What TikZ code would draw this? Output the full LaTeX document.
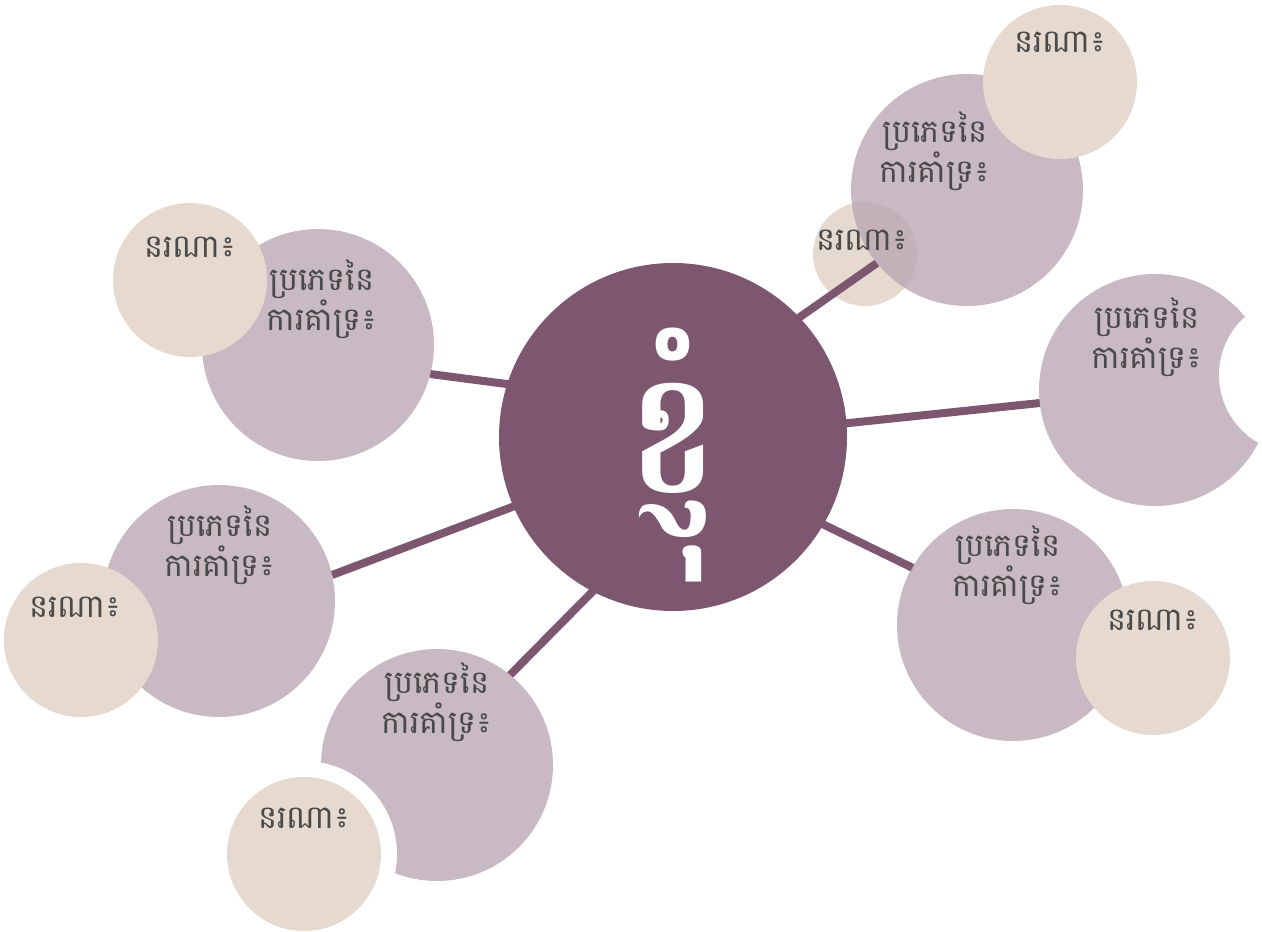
\documentclass[tikz,border=0pt]{standalone}
\usepackage{fontspec}
\newfontfamily\kh[Script=Khmer]{Battambang}
\newfontfamily\khb[Script=Khmer]{Battambang Bold}
\usetikzlibrary{calc}
\definecolor{hub}{HTML}{7D5670}
\definecolor{mauve}{HTML}{BBA7B4}
\definecolor{beige}{HTML}{E6D9CF}
\definecolor{ink}{HTML}{4A4A4A}
\pgfdeclarelayer{under}
\pgfdeclarelayer{lines}
\pgfdeclarelayer{top}
\pgfsetlayers{under,lines,main,top}
\tikzset{
  hubc/.style={circle,fill=hub,inner sep=0pt,minimum size=348pt},
  typec/.style={circle,fill=mauve,fill opacity=0.8,inner sep=0pt,minimum size=232pt},
  whoc/.style={circle,fill=beige,inner sep=0pt,minimum size=154pt},
  whos/.style={circle,fill=beige,inner sep=0pt,minimum size=104pt},
  gap/.style={circle,fill=white,inner sep=0pt},
  conn/.style={line width=8pt,draw=hub},
  ttxt/.style={text=ink,font=\kh\fontsize{32}{30}\selectfont,align=center,inner sep=0pt},
}
\begin{document}
\begin{tikzpicture}[x=1pt,y=-1pt]
\useasboundingbox (0,0) rectangle (1262,932);
% hub
\node[hubc] (c) at (673,437) {};
% type circles
\node[typec] (p1) at (967,190) {};
\node[typec] (p2) at (1155,390) {};
\node[typec] (p3) at (1013,625) {};
\node[typec] (p4) at (437,765) {};
\node[typec] (p5) at (219,601) {};
\node[typec] (p6) at (318,345) {};
% connector ends
\coordinate (h1) at (780,331);  \coordinate (a1) at (877,263);
\coordinate (h2) at (830,425);  \coordinate (a2) at (1040,403);
\coordinate (h3) at (810,518);  \coordinate (a3) at (913,568);
\coordinate (h4) at (602,582);  \coordinate (a4) at (510,675);
\coordinate (h5) at (528,501);  \coordinate (a5) at (332,575);
\coordinate (h6) at (522,386);  \coordinate (a6) at (430,374);
\begin{pgfonlayer}{under}
\node[whos] (w1s) at (865,254) {};
\end{pgfonlayer}
\begin{pgfonlayer}{lines}
\draw[conn] (h1) -- (a1);
\draw[conn] (h2) -- (a2);
\draw[conn] (h3) -- (a3);
\draw[conn] (h4) -- (a4);
\draw[conn] (h5) -- (a5);
\draw[conn] (h6) -- (a6);
\end{pgfonlayer}
\begin{pgfonlayer}{top}
\node[whoc] (w1) at (1060,82) {};
\node[gap,minimum size=156pt] (g2) at (1297,375) {};
\node[whoc] (w3) at (1153,658) {};
\node[gap,minimum size=186pt] (g4) at (304,854) {};
\node[whoc] (w4) at (304,854) {};
\node[whoc] (w5) at (81,640) {};
\node[whoc] (w6) at (190,280) {};
% texts
\node[text=white,font=\khb\fontsize{110}{110}\selectfont,inner sep=0pt,xscale=1.3,yscale=1.57,transform shape] (ct) at (673,455) {ខ្ញុំ};
\node[ttxt] (t1) at (935,151) {ប្រភេទនៃ\\ការគាំទ្រ៖};
\node[ttxt] (t2) at (1147,337) {ប្រភេទនៃ\\ការគាំទ្រ៖};
\node[ttxt] (t3) at (1008,565) {ប្រភេទនៃ\\ការគាំទ្រ៖};
\node[ttxt] (t4) at (437,702) {ប្រភេទនៃ\\ការគាំទ្រ៖};
\node[ttxt] (t5) at (220,545) {ប្រភេទនៃ\\ការគាំទ្រ៖};
\node[ttxt] (t6) at (322,299) {ប្រភេទនៃ\\ការគាំទ្រ៖};
\node[ttxt] (n1) at (1060,42) {នរណា៖};
\node[ttxt] (n1s) at (862,240) {នរណា៖};
\node[ttxt] (n3) at (1153,620) {នរណា៖};
\node[ttxt] (n4) at (304,818) {នរណា៖};
\node[ttxt] (n5) at (75,607) {នរណា៖};
\node[ttxt] (n6) at (190,247) {នរណា៖};
\end{pgfonlayer}
\end{tikzpicture}
\end{document}
